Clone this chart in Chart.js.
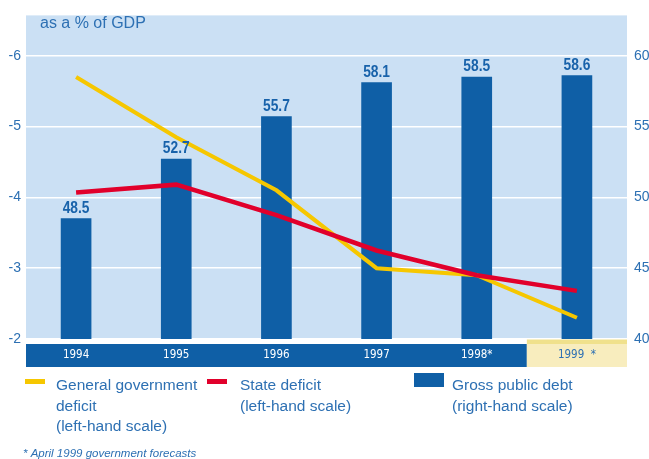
<!DOCTYPE html>
<html>
<head>
<meta charset="utf-8">
<script src="https://cdn.jsdelivr.net/npm/chart.js@4"></script>
<style>
  body { margin: 0; background: #fff; }
  canvas { display: block; }
</style>
</head>
<body>
<canvas id="deficit-debt-chart" width="649" height="459"></canvas>
<script>
// years on the x axis (* = forecast)
const years = ["1994", "1995", "1996", "1997", "1998*", "1999  *"];

// deficits, % of GDP (left-hand scale)
const generalDeficit = [-5.7, -4.85, -4.1, -3.0, -2.9, -2.3];
const stateDeficit = [-4.07, -4.18, -3.75, -3.25, -2.9, -2.68];

// gross public debt, % of GDP (right-hand scale)
const grossDebt = [48.5, 52.7, 55.7, 58.1, 58.5, 58.6];

const leftTicks = [-6, -5, -4, -3, -2];
const rightTicks = [40, 45, 50, 55, 60];

const legendNames = [
  ["General government", "deficit", "(left-hand scale)"],
  ["State deficit", "(left-hand scale)"],
  ["Gross public debt", "(right-hand scale)"],
];
const unitTitle = "as a % of GDP";
const footnote = "* April 1999 government forecasts";

const BLUE = "#0f5fa6";
const TEXT = "#2d70b3";
const NARROW = "'DejaVu Sans Condensed', 'DejaVu Sans', sans-serif";
const SANS = "'Liberation Sans', Arial, sans-serif";

// light blue plot area + the year band under it (last year on yellow)
const backdrop = {
  id: "backdrop",
  beforeDraw(chart) {
    const { ctx, chartArea: a, scales } = chart;
    const x = scales.x;
    const split = (x.getPixelForValue(4) + x.getPixelForValue(5)) / 2;
    ctx.save();
    ctx.fillStyle = "#cbe0f4";
    ctx.fillRect(a.left, a.top, a.right - a.left, a.bottom - a.top);
    ctx.fillStyle = BLUE;
    ctx.fillRect(a.left, a.bottom + 5, split - a.left, 23);
    ctx.fillStyle = "#f0e18c";
    ctx.fillRect(split, a.bottom, a.right - split, 5);
    ctx.fillStyle = "#f8edbe";
    ctx.fillRect(split, a.bottom + 5, a.right - split, 23);
    ctx.fillStyle = TEXT;
    ctx.font = "16px " + SANS;
    ctx.textBaseline = "alphabetic";
    ctx.fillText(unitTitle, a.left + 14, 28);
    ctx.restore();
  },
};

// debt value above every bar (bold, squeezed a little)
const barValues = {
  id: "barValues",
  afterDatasetsDraw(chart) {
    const { ctx } = chart;
    const meta = chart.getDatasetMeta(2);
    ctx.save();
    ctx.fillStyle = "#1862aa";
    ctx.font = "bold 16px " + SANS;
    ctx.textAlign = "center";
    ctx.textBaseline = "alphabetic";
    meta.data.forEach((bar, i) => {
      ctx.save();
      ctx.translate(bar.x, bar.y - 6);
      ctx.scale(0.86, 1);
      ctx.fillText(grossDebt[i].toFixed(1), 0, 0);
      ctx.restore();
    });
    ctx.restore();
  },
};

// legend in three columns + footnote
const legendBlock = {
  id: "legendBlock",
  afterDraw(chart) {
    const { ctx } = chart;
    const cols = [
      { swatch: [25, 379, 20, 5], text: 56 },
      { swatch: [207, 379, 20, 5], text: 240 },
      { swatch: [414, 373, 30, 14], text: 452 },
    ];
    ctx.save();
    ctx.font = "15.5px " + SANS;
    ctx.textBaseline = "alphabetic";
    chart.data.datasets.forEach((ds, i) => {
      const c = cols[i];
      ctx.fillStyle = ds.type === "bar" ? ds.backgroundColor : ds.borderColor;
      ctx.fillRect(...c.swatch);
      ctx.fillStyle = TEXT;
      legendNames[i].forEach((line, j) => {
        ctx.fillText(line, c.text, 390 + j * 20.5);
      });
    });
    ctx.font = "italic 11.5px " + SANS;
    ctx.fillText(footnote, 23, 457);
    ctx.restore();
  },
};

const ctx = document.getElementById("deficit-debt-chart");
const myChart = new Chart(ctx, {
  data: {
    labels: years,
    datasets: [
      {
        type: "line",
        label: legendNames[0].join(" "),
        data: generalDeficit,
        yAxisID: "y",
        borderColor: "#f6c700",
        borderWidth: 4,
        pointRadius: 0,
        tension: 0,
        order: 2,
      },
      {
        type: "line",
        label: legendNames[1].join(" "),
        data: stateDeficit,
        yAxisID: "y",
        borderColor: "#e1002b",
        borderWidth: 4.5,
        pointRadius: 0,
        tension: 0,
        order: 1,
      },
      {
        type: "bar",
        label: legendNames[2].join(" "),
        data: grossDebt,
        yAxisID: "y1",
        backgroundColor: BLUE,
        barThickness: 30,
        order: 3,
      },
    ],
  },
  options: {
    responsive: false,
    animation: false,
    devicePixelRatio: 1,
    layout: { padding: { top: 10, bottom: 92, left: 0, right: 0 } },
    plugins: {
      legend: { display: false },
      tooltip: { enabled: false },
    },
    scales: {
      x: {
        grid: { display: false, drawTicks: false },
        border: { display: false },
        afterFit: (axis) => { axis.height = 28; },
        ticks: {
          padding: 9,
          font: { family: NARROW, size: 11.5 },
          color: (c) => (c.index === years.length - 1 ? TEXT : "#ffffff"),
        },
      },
      y: {
        position: "left",
        reverse: true,
        min: -6.57,
        max: -2,
        afterBuildTicks: (axis) => { axis.ticks = leftTicks.map((v) => ({ value: v })); },
        afterFit: (axis) => { axis.width = 26; },
        grid: { color: "#ffffff", lineWidth: 1.5, drawTicks: false },
        border: { display: false },
        ticks: { padding: 5, font: { family: SANS, size: 14 }, color: TEXT },
      },
      y1: {
        position: "right",
        min: 40,
        max: 62.85,
        afterBuildTicks: (axis) => { axis.ticks = rightTicks.map((v) => ({ value: v })); },
        afterFit: (axis) => { axis.width = 22; },
        grid: { display: false, drawTicks: false },
        border: { display: false },
        ticks: { padding: 7, font: { family: SANS, size: 14 }, color: TEXT },
      },
    },
  },
  plugins: [backdrop, barValues, legendBlock],
});
</script>
</body>
</html>
